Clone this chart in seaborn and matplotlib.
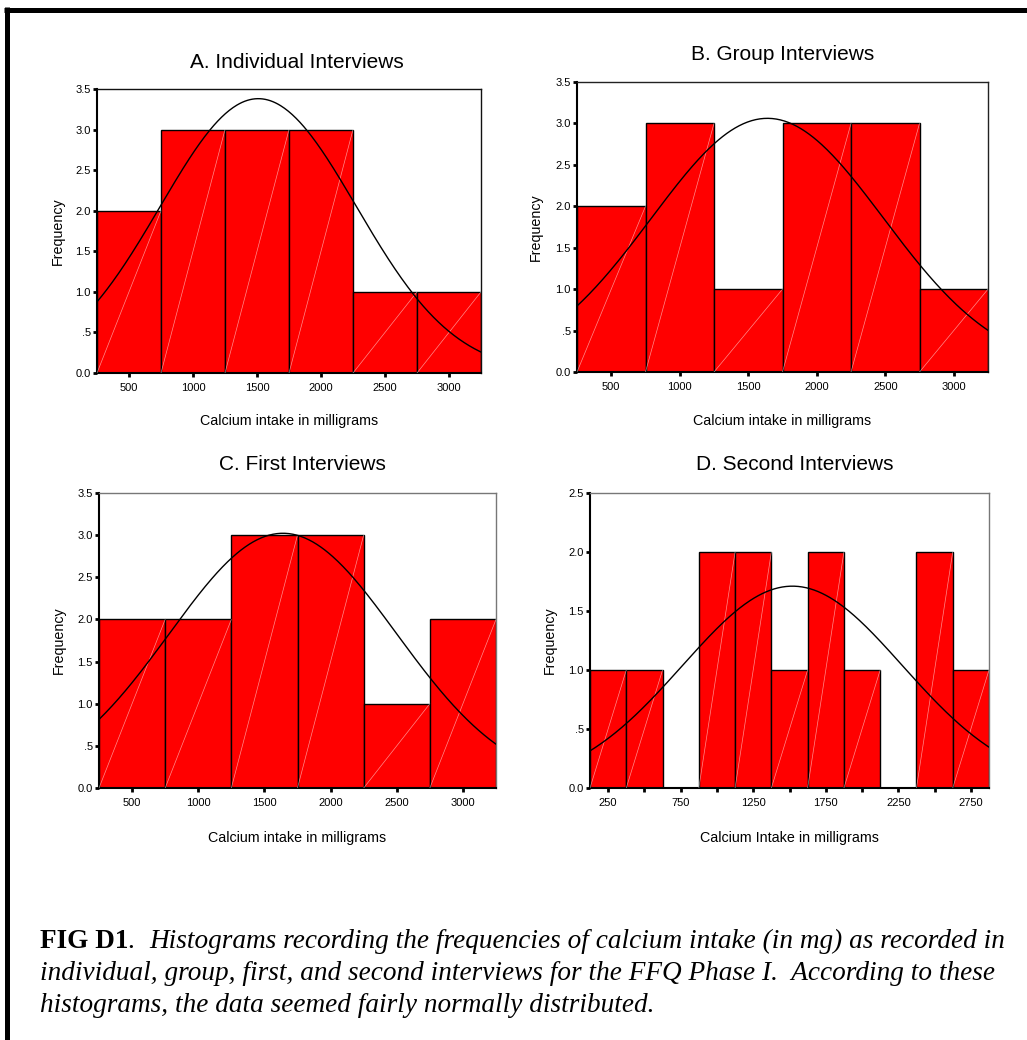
import numpy as np
import pandas as pd
import matplotlib
matplotlib.use("Agg")
import matplotlib.pyplot as plt
import seaborn as sns
from matplotlib.lines import Line2D
from matplotlib.ticker import FuncFormatter

sns.set_style("white")
plt.rcParams['font.family'] = ['Liberation Sans', 'DejaVu Sans']
plt.rcParams.update({"text.color": "black", "axes.labelcolor": "black",
                     "xtick.color": "black", "ytick.color": "black"})

W, H = 1027, 1040

# ---- data ----
titles = ["A. Individual Interviews", "B. Group Interviews",
          "C. First Interviews", "D. Second Interviews"]
xlabels = ["Calcium intake in milligrams", "Calcium intake in milligrams",
           "Calcium intake in milligrams", "Calcium Intake in milligrams"]

edges_abc = [250, 750, 1250, 1750, 2250, 2750, 3250]
edges_d = [125, 375, 625, 875, 1125, 1375, 1625, 1875, 2125, 2375, 2625, 2875]

counts_a = [2, 3, 3, 3, 1, 1]
counts_b = [2, 3, 1, 3, 3, 1]
counts_c = [2, 2, 3, 3, 1, 2]
counts_d = [1, 1, 0, 2, 2, 1, 2, 1, 0, 2, 1]

# normal curve parameters (mean, sd) estimated from the drawn curves
fit_mean = [1510, 1640, 1640, 1520]
fit_sd = [767, 847, 858, 758]

y_max = [3.5, 3.5, 3.5, 2.5]
xticks_abc = [500, 1000, 1500, 2000, 2500, 3000]
xticks_d = [250, 750, 1250, 1750, 2250, 2750]
xminor_d = [500, 1000, 1500, 2000, 2500]

# ---- layout (pixels) ----
rects = [(97, 89, 481, 373), (577, 82, 988, 372),
         (99, 493, 496, 788), (590, 493, 989, 788)]
title_pos = [(297, 63), (783, 55), (302, 465), (795, 465)]
frame_grey = ["#111111", "#222222", "#777777", "#777777"]

fig = plt.figure(figsize=(W / 100, H / 100), dpi=100)


def ytick_fmt(v, pos):
    s = "%.1f" % v
    return s.lstrip("0") if 0 < v < 1 else s


panel_data = [(edges_abc, counts_a), (edges_abc, counts_b),
              (edges_abc, counts_c), (edges_d, counts_d)]

for i, (edges, counts) in enumerate(panel_data):
    l, t, r, b = rects[i]
    ax = fig.add_axes([l / W, 1 - b / H, (r - l) / W, (b - t) / H])
    e = np.array(edges, dtype=float)
    df = pd.DataFrame({"mid": (e[:-1] + e[1:]) / 2, "n": counts})
    sns.histplot(data=df, x="mid", weights="n", bins=list(edges), ax=ax,
                 color="#ff0000", edgecolor="black", linewidth=1, alpha=1)

    # faint white diagonals inside each bar
    for p in list(ax.patches):
        h = p.get_height()
        if h > 0:
            x0 = p.get_x()
            ax.plot([x0, x0 + p.get_width()], [0, h], color="white",
                    lw=0.5, alpha=0.55, zorder=3)
        else:
            p.set_visible(False)

    # normal curve
    bw = e[1] - e[0]
    xs = np.linspace(e[0], e[-1], 300)
    m, s = fit_mean[i], fit_sd[i]
    ys = sum(counts) * bw * np.exp(-0.5 * ((xs - m) / s) ** 2) / (s * np.sqrt(2 * np.pi))
    ax.plot(xs, ys, color="black", lw=1, zorder=4)

    ax.set_xlim(e[0], e[-1])
    ax.set_ylim(0, y_max[i])
    ax.set_yticks(np.arange(0, y_max[i] + 0.01, 0.5))
    ax.yaxis.set_major_formatter(FuncFormatter(ytick_fmt))
    if i < 3:
        ax.set_xticks(xticks_abc)
    else:
        ax.set_xticks(xticks_d)
        ax.set_xticks(xminor_d, minor=True)
    ax.tick_params(axis="both", which="both", direction="out", length=3,
                   width=2, color="black", labelsize=8, bottom=True, left=True)
    ax.tick_params(axis="x", which="both", pad=4.5)
    ax.tick_params(axis="y", pad=1.5)

    for sp in ["left", "bottom"]:
        ax.spines[sp].set_color("black")
        ax.spines[sp].set_linewidth(1.5)
    for sp in ["top", "right"]:
        ax.spines[sp].set_color(frame_grey[i])
        ax.spines[sp].set_linewidth(1)

    ax.set_xlabel(xlabels[i], fontsize=10.3)
    ax.set_ylabel("Frequency", fontsize=10.3)
    ax.xaxis.label.set_va("center")
    ax.yaxis.label.set_va("center")
    ax.xaxis.set_label_coords(0.5, -0.168)
    ax.yaxis.set_label_coords(-0.101, 0.5)

    tx, ty = title_pos[i]
    fig.text(tx / W, 1 - ty / H, titles[i], ha="center", va="center", fontsize=15)

# frame lines (top and left)
fig.add_artist(Line2D([4 / W, 1], [1 - 9.5 / H, 1 - 9.5 / H], color="black",
                      lw=3.6, solid_capstyle="butt", transform=fig.transFigure))
fig.add_artist(Line2D([6.5 / W, 6.5 / W], [1 - 7 / H, 0], color="black",
                      lw=3.6, solid_capstyle="butt", transform=fig.transFigure))

# caption
serif = ["Liberation Serif", "DejaVu Serif"]
cap_fs = 19.6
renderer = fig.canvas.get_renderer()
baselines = [948, 980, 1012]
pieces = [
    [("FIG D1", "bold", "normal"), (".  ", "normal", "normal"),
     ("Histograms recording the frequencies of calcium intake (in mg) as recorded in",
      "normal", "italic")],
    [("individual, group, first, and second interviews for the FFQ Phase I.  According to these",
      "normal", "italic")],
    [("histograms, the data seemed fairly normally distributed.", "normal", "italic")],
]
for yb, line in zip(baselines, pieces):
    x = 40
    for txt, wt, st in line:
        t = fig.text(x / W, 1 - yb / H, txt, family=serif, fontsize=cap_fs,
                     fontweight=wt, fontstyle=st, ha="left", va="baseline")
        bb = t.get_window_extent(renderer)
        x = bb.x1

fig.savefig("out.png", dpi=100)
